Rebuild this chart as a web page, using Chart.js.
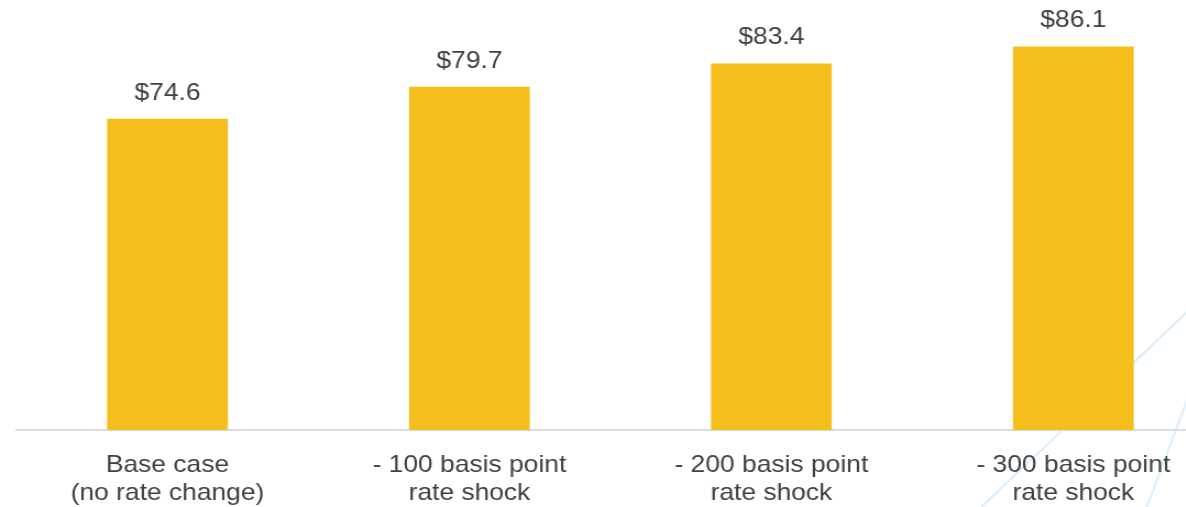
<!DOCTYPE html>
<html>
<head>
<meta charset="utf-8">
<script src="https://cdn.jsdelivr.net/npm/chart.js@4/dist/chart.umd.min.js"></script>
<style>
  html, body { margin: 0; padding: 0; background: #ffffff; overflow: hidden; width: 1186px; height: 507px; }
  #wrap { position: relative; width: 1186px; height: 507px; overflow: hidden; }
  /* the chart is laid out narrow and widened horizontally */
  #c { position: absolute; left: 0; top: 0; transform-origin: 0 0; transform: scaleX(1.1); }
</style>
</head>
<body>
<div id="wrap"><canvas id="c" width="1128" height="507"></canvas></div>
<script>
// Categories (two-line tick labels)
const categories = [
  ["Base case", "(no rate change)"],
  ["- 100 basis point", "rate shock"],
  ["- 200 basis point", "rate shock"],
  ["- 300 basis point", "rate shock"]
];
// Values in $
const values = [74.6, 79.7, 83.4, 86.1];
// Value axis range (axis hidden)
const yMin = 25;
const yMax = 90;

const stretch = 1.1;
const textColor = '#404040';
const fontFamily = '"Liberation Sans", Arial, Helvetica, sans-serif';

// Faint diagonal accent lines in the lower right corner, behind the chart
const accentLines = {
  id: 'accentLines',
  beforeDraw(chart) {
    const ctx = chart.ctx;
    ctx.save();
    ctx.strokeStyle = '#d6effb';
    ctx.lineWidth = 2;
    ctx.beginPath();
    ctx.moveTo(975 / stretch, 513);
    ctx.lineTo(1245 / stretch, 257);
    ctx.moveTo(1144.5 / stretch, 513);
    ctx.lineTo(1245 / stretch, 247);
    ctx.stroke();
    ctx.restore();
  }
};

// Dollar labels above each bar
const valueLabels = {
  id: 'valueLabels',
  afterDatasetsDraw(chart) {
    const ctx = chart.ctx;
    const meta = chart.getDatasetMeta(0);
    ctx.save();
    ctx.font = '24px ' + fontFamily;
    ctx.fillStyle = textColor;
    ctx.textAlign = 'center';
    ctx.textBaseline = 'alphabetic';
    meta.data.forEach((bar, i) => {
      ctx.fillText('$' + values[i].toFixed(1), bar.x, bar.y - 19);
    });
    ctx.restore();
  }
};

new Chart(document.getElementById('c'), {
  type: 'bar',
  data: {
    labels: categories,
    datasets: [{
      data: values,
      backgroundColor: '#F4BF1D',
      borderWidth: 0,
      barPercentage: 0.4,
      categoryPercentage: 1.0
    }]
  },
  options: {
    responsive: false,
    animation: false,
    devicePixelRatio: 1,
    layout: { padding: { left: 15, right: 15, top: 22, bottom: 0 } },
    plugins: {
      legend: { display: false },
      tooltip: { enabled: false }
    },
    scales: {
      x: {
        grid: { display: false, drawTicks: false },
        border: { display: true, color: '#dcdcdc', width: 2 },
        ticks: {
          color: textColor,
          font: { family: fontFamily, size: 24, lineHeight: 1.14 },
          padding: 22,
          maxRotation: 0,
          autoSkip: false
        },
        afterFit(scale) { scale.height = 77; }
      },
      y: {
        display: false,
        min: yMin,
        max: yMax
      }
    }
  },
  plugins: [accentLines, valueLabels]
});
</script>
</body>
</html>
